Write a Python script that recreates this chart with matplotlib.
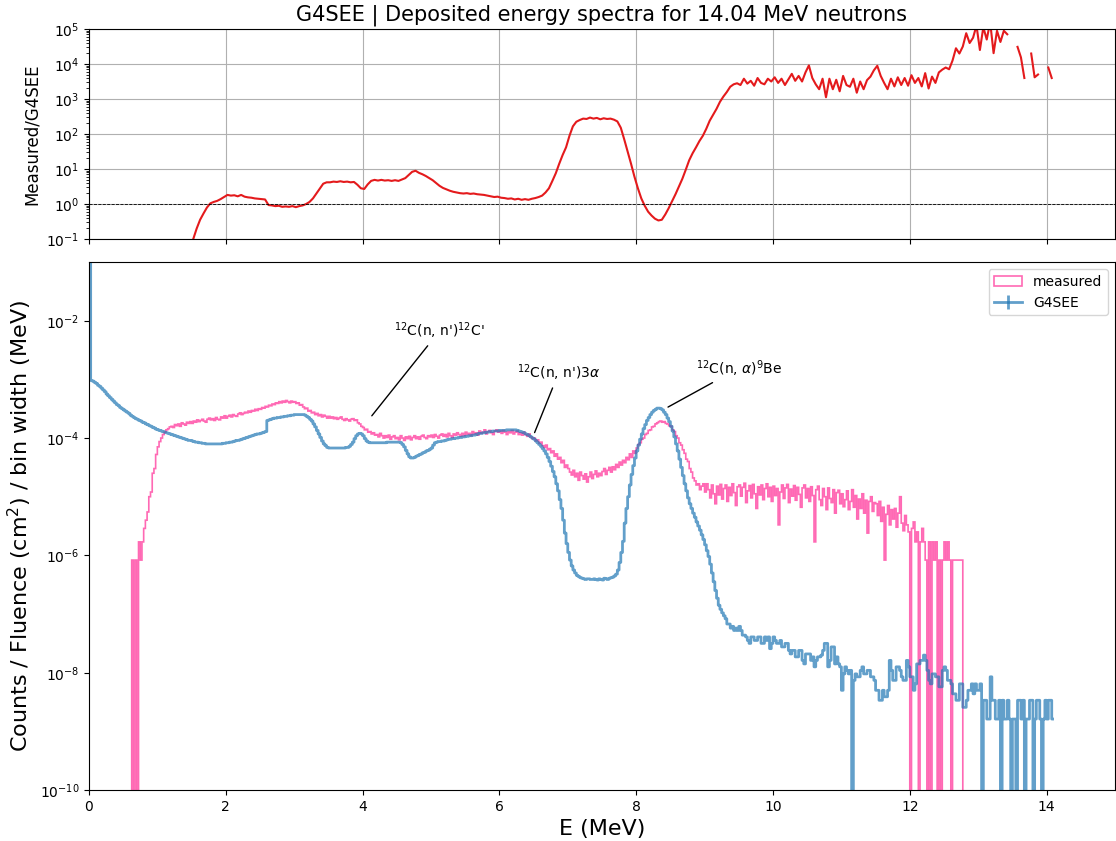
import numpy as np
import matplotlib
matplotlib.use("Agg")
import matplotlib.pyplot as plt
from matplotlib.ticker import NullLocator

# ---------------- data (log10 of the plotted values, None = empty bin) ----------------
SPEC_BIN = 0.025   # MeV, spectra bin width
RATIO_BIN = 0.05   # MeV, ratio sampling

# G4SEE simulated spectrum, log10(counts / fluence / bin width), one row = 0.5 MeV
g4_log = [
    0.00, -3.02, -3.03, -3.05, -3.07, -3.10, -3.12, -3.15, -3.18, -3.21, -3.25, -3.28, -3.31, -3.34, -3.37, -3.40, -3.43, -3.45, -3.48, -3.50,
    -3.52, -3.54, -3.56, -3.58, -3.61, -3.63, -3.65, -3.67, -3.68, -3.70, -3.71, -3.73, -3.74, -3.76, -3.77, -3.79, -3.80, -3.82, -3.83, -3.85,
    -3.86, -3.87, -3.88, -3.89, -3.90, -3.91, -3.92, -3.93, -3.94, -3.95, -3.96, -3.97, -3.98, -3.99, -4.00, -4.01, -4.02, -4.03, -4.04, -4.04,
    -4.05, -4.06, -4.07, -4.07, -4.08, -4.08, -4.09, -4.09, -4.10, -4.10, -4.10, -4.10, -4.10, -4.10, -4.10, -4.10, -4.10, -4.10, -4.09, -4.09,
    -4.08, -4.08, -4.07, -4.07, -4.06, -4.05, -4.04, -4.04, -4.03, -4.02, -4.01, -4.00, -3.99, -3.98, -3.97, -3.96, -3.95, -3.94, -3.93, -3.93,
    -3.92, -3.91, -3.90, -3.89, -3.70, -3.69, -3.68, -3.67, -3.66, -3.66, -3.65, -3.65, -3.64, -3.64, -3.63, -3.63, -3.62, -3.62, -3.61, -3.61,
    -3.60, -3.60, -3.60, -3.60, -3.60, -3.60, -3.61, -3.63, -3.65, -3.68, -3.71, -3.76, -3.81, -3.87, -3.93, -3.99, -4.05, -4.10, -4.13, -4.16,
    -4.17, -4.17, -4.17, -4.17, -4.17, -4.17, -4.17, -4.17, -4.17, -4.17, -4.16, -4.16, -4.14, -4.11, -4.07, -4.01, -3.96, -3.93, -3.92, -3.93,
    -3.96, -4.01, -4.05, -4.07, -4.08, -4.08, -4.08, -4.08, -4.08, -4.08, -4.08, -4.08, -4.08, -4.08, -4.07, -4.07, -4.07, -4.07, -4.07, -4.07,
    -4.07, -4.07, -4.08, -4.11, -4.15, -4.21, -4.27, -4.32, -4.34, -4.34, -4.33, -4.31, -4.30, -4.28, -4.27, -4.25, -4.24, -4.22, -4.21, -4.19,
    -4.17, -4.12, -4.08, -4.07, -4.06, -4.06, -4.05, -4.05, -4.04, -4.03, -4.02, -4.02, -4.01, -4.01, -4.00, -4.00, -3.99, -3.99, -3.98, -3.98,
    -3.97, -3.97, -3.96, -3.96, -3.95, -3.95, -3.94, -3.93, -3.92, -3.92, -3.91, -3.91, -3.90, -3.90, -3.89, -3.89, -3.88, -3.88, -3.88, -3.88,
    -3.87, -3.87, -3.87, -3.87, -3.86, -3.86, -3.86, -3.86, -3.86, -3.86, -3.87, -3.88, -3.89, -3.90, -3.91, -3.93, -3.94, -3.96, -3.98, -4.00,
    -4.02, -4.05, -4.08, -4.11, -4.14, -4.18, -4.22, -4.27, -4.33, -4.40, -4.48, -4.57, -4.66, -4.78, -4.90, -5.05, -5.20, -5.40, -5.62, -5.80,
    -5.95, -6.08, -6.18, -6.25, -6.30, -6.34, -6.36, -6.38, -6.39, -6.40, -6.41, -6.40, -6.40, -6.41, -6.41, -6.40, -6.41, -6.42, -6.40, -6.41,
    -6.42, -6.39, -6.40, -6.41, -6.39, -6.38, -6.37, -6.35, -6.32, -6.25, -6.12, -5.95, -5.76, -5.45, -5.20, -5.00, -4.80, -4.62, -4.47, -4.34,
    -4.22, -4.12, -4.02, -3.93, -3.84, -3.77, -3.70, -3.65, -3.60, -3.56, -3.53, -3.51, -3.49, -3.49, -3.50, -3.52, -3.56, -3.60, -3.66, -3.72,
    -3.80, -3.88, -3.98, -4.10, -4.22, -4.36, -4.50, -4.64, -4.78, -4.90, -5.02, -5.12, -5.20, -5.28, -5.35, -5.43, -5.50, -5.57, -5.65, -5.73,
    -5.82, -5.92, -6.02, -6.15, -6.30, -6.45, -6.60, -6.73, -6.85, -6.92, -6.98, -7.03, -7.08, -7.17, -7.17, -7.24, -7.21, -7.28, -7.24, -7.28,
    -7.21, -7.28, -7.36, -7.36, -7.39, -7.45, -7.50, -7.39, -7.39, -7.45, -7.45, -7.39, -7.39, -7.50, -7.50, -7.39, -7.45, -7.39, -7.59, -7.50,
    -7.39, -7.45, -7.50, -7.50, -7.45, -7.56, -7.56, -7.50, -7.50, -7.62, -7.68, -7.62, -7.62, -7.73, -7.73, -7.62, -7.62, -7.79, -7.85, -7.68,
    -7.68, -7.68, -7.79, -7.73, -7.90, -7.79, -7.73, -7.73, -7.70, -7.62, -7.50, -7.50, -7.90, -7.79, -7.56, -7.56, -7.85, -7.73, -7.85, -7.90,
    -8.30, -8.02, -7.90, -7.96, -8.02, -7.96, None, -8.13, -8.02, -8.07, -8.07, -7.96, -7.90, -8.02, -8.02, -7.96, -7.96, -8.07, -8.07, -8.13,
    -8.30, -8.30, -8.47, -8.47, -8.30, -8.41, -8.41, -8.30, -7.79, -7.96, -8.13, -8.13, -7.90, -7.90, -7.96, -8.07, -8.13, -8.13, -7.79, -7.90,
    -8.07, -8.07, -8.30, -8.19, -7.85, -7.85, -7.79, -7.79, -7.70, -7.79, -7.96, -8.13, -8.19, -8.02, -8.02, -8.07, -8.07, -8.24, -8.24, -7.96,
    -7.90, -7.96, -8.13, -8.13, -8.19, -8.36, -8.36, -8.47, -8.47, -8.19, -8.19, -8.59, -8.59, -8.47, -8.30, -8.30, -8.19, -8.36, -8.19, -8.30,
    -8.30, -8.19, None, -8.47, -8.47, -8.79, -8.79, -8.07, -8.47, -8.47, -8.79, -8.79, -8.47, None, -8.47, -8.79, -8.79, -8.47, -8.79, None,
    -8.79, -8.79, None, -8.47, -8.47, -8.79, -8.47, None, -8.79, -8.79, -8.47, -8.47, None, -8.79, -8.47, -8.47, -8.79, None, -8.79, -8.47,
    -8.79, -8.47, -8.47, -8.79,
]

# measured spectrum, log10(counts / fluence / bin width), one row = 0.5 MeV
meas_log = [None] * 20 + [
    None, None, None, None, None, -6.08, None, -6.08, None, -5.77, -6.08, -5.77, -5.54, -5.40, -5.26, -5.00, -4.92, -4.60, -4.52, -4.28,
    -4.15, -4.06, -4.00, -3.94, -3.90, -3.86, -3.84, -3.81, -3.80, -3.82, -3.77, -3.79, -3.76, -3.80, -3.74, -3.76, -3.78, -3.73, -3.75, -3.72,
    -3.75, -3.71, -3.73, -3.69, -3.72, -3.70, -3.68, -3.71, -3.73, -3.68, -3.66, -3.69, -3.67, -3.70, -3.65, -3.68, -3.69, -3.64, -3.66, -3.62,
    -3.66, -3.63, -3.61, -3.64, -3.60, -3.62, -3.63, -3.59, -3.57, -3.60, -3.58, -3.56, -3.57, -3.54, -3.56, -3.53, -3.54, -3.51, -3.53, -3.50,
    -3.51, -3.48, -3.49, -3.46, -3.47, -3.44, -3.45, -3.42, -3.43, -3.40, -3.41, -3.38, -3.40, -3.37, -3.39, -3.36, -3.38, -3.40, -3.37, -3.39,
    -3.38, -3.41, -3.40, -3.44, -3.43, -3.47, -3.50, -3.49, -3.54, -3.53, -3.57, -3.56, -3.60, -3.58, -3.62, -3.60, -3.64, -3.61, -3.63, -3.66,
    -3.63, -3.66, -3.64, -3.67, -3.65, -3.68, -3.66, -3.64, -3.68, -3.70, -3.67, -3.69, -3.71, -3.68, -3.67, -3.70, -3.69, -3.74, -3.76, -3.80,
    -3.82, -3.86, -3.85, -3.90, -3.89, -3.93, -3.91, -3.95, -3.94, -3.98, -3.92, -3.96, -4.00, -3.96, -3.99, -3.95, -4.02, -3.98, -3.96, -4.01,
    -3.99, -4.03, -3.96, -4.00, -4.04, -3.98, -4.01, -3.97, -4.03, -3.99, -3.96, -4.01, -3.98, -4.02, -3.97, -3.95, -3.99, -4.01, -3.96, -3.98,
    -3.95, -3.99, -3.94, -3.97, -4.00, -3.95, -3.93, -3.97, -3.94, -3.98, -3.92, -3.96, -3.99, -3.93, -3.95, -3.91, -3.94, -3.97, -3.92, -3.96,
    -3.90, -3.94, -3.92, -3.96, -3.89, -3.93, -3.91, -3.95, -3.88, -3.92, -3.90, -3.86, -3.93, -3.89, -3.87, -3.91, -3.94, -3.88, -3.86, -3.90,
    -3.88, -3.92, -3.87, -3.90, -3.94, -3.89, -3.91, -3.87, -3.93, -3.90, -3.88, -3.94, -3.91, -3.95, -3.90, -3.94, -3.97, -3.93, -3.98, -4.01,
    -4.00, -4.05, -4.03, -4.09, -4.07, -4.13, -4.16, -4.12, -4.20, -4.18, -4.25, -4.22, -4.31, -4.27, -4.36, -4.33, -4.42, -4.38, -4.50, -4.46,
    -4.52, -4.58, -4.63, -4.55, -4.66, -4.60, -4.72, -4.58, -4.64, -4.70, -4.61, -4.75, -4.66, -4.58, -4.69, -4.62, -4.56, -4.66, -4.60, -4.64,
    -4.57, -4.52, -4.62, -4.55, -4.50, -4.58, -4.49, -4.54, -4.45, -4.50, -4.41, -4.46, -4.38, -4.42, -4.33, -4.37, -4.27, -4.33, -4.22, -4.26,
    -4.17, -4.11, -4.08, -4.02, -4.00, -3.94, -3.92, -3.87, -3.86, -3.81, -3.80, -3.76, -3.74, -3.72, -3.71, -3.73, -3.72, -3.75, -3.76, -3.79,
    -3.80, -3.86, -3.89, -3.96, -4.00, -4.08, -4.12, -4.20, -4.26, -4.36, -4.40, -4.52, -4.58, -4.68, -4.73, -4.80, -4.78, -4.88, -4.82, -4.78,
    -4.92, -4.78, -4.88, -5.02, -4.80, -4.95, -5.12, -4.82, -4.97, -4.79, -5.04, -4.86, -4.80, -5.08, -4.84, -4.98, -4.78, -4.93, -5.15, -4.83,
    -4.80, -4.99, -4.84, -4.77, -5.10, -4.90, -4.81, -5.02, -4.79, -4.95, -5.20, -4.83, -4.97, -4.80, -5.05, -4.86, -4.78, -5.00, -4.84, -5.08,
    -4.82, -4.98, -4.86, -5.48, -4.92, -4.80, -5.03, -4.85, -4.79, -5.10, -4.87, -4.99, -4.81, -5.06, -4.84, -4.96, -5.18, -4.85, -4.80, -5.02,
    -4.86, -5.08, -4.83, -4.98, -5.77, -4.88, -4.82, -5.05, -5.15, -4.86, -5.00, -5.22, -4.85, -5.03, -5.10, -4.88, -5.28, -4.93, -4.89, -5.12,
    -4.95, -5.17, -5.05, -4.90, -5.22, -5.08, -4.88, -5.18, -4.98, -5.38, -5.04, -5.20, -4.95, -5.28, -5.06, -5.62, -5.08, -5.00, -5.25, -5.10,
    -5.12, -5.32, -5.08, -5.42, -5.18, -6.08, -5.30, -5.15, -5.48, -5.22, -5.38, -5.20, -5.52, -5.28, -5.00, -5.45, -5.58, -5.32, -5.48, -5.60,
    None, -5.54, -5.43, -5.77, -5.60, None, -5.77, -5.54, -5.77, -6.08, None, -5.77, None, -5.77, -6.08, -5.77, None, -6.08, None, -6.08,
    -5.77, -6.08, -5.77, -6.08, None, -6.08, -6.08, -6.08, -6.08, -6.08, -6.08,
] + [None] * 53

# ratio measured / G4SEE (top panel), log10, None = undefined
ratio_log = [None] * 30 + [
    -1.00, -0.70, -0.45, -0.27, -0.10, 0.02, 0.06, 0.09, 0.14, 0.20,
    0.26, 0.24, 0.25, 0.22, 0.26, 0.21, 0.19, 0.18, 0.16, 0.15,
    0.14, 0.13, -0.03, -0.04, -0.06, -0.05, -0.08, -0.07, -0.08, -0.06,
    -0.09, -0.06, -0.04, 0.00, 0.06, 0.16, 0.30, 0.44, 0.58, 0.62,
    0.62, 0.64, 0.63, 0.65, 0.63, 0.64, 0.62, 0.63, 0.55, 0.45,
    0.43, 0.56, 0.66, 0.69, 0.67, 0.69, 0.67, 0.68, 0.66, 0.68,
    0.66, 0.70, 0.74, 0.83, 0.92, 0.95, 0.89, 0.85, 0.80, 0.74,
    0.68, 0.60, 0.52, 0.46, 0.42, 0.38, 0.35, 0.33, 0.31, 0.30,
    0.31, 0.29, 0.30, 0.28, 0.27, 0.26, 0.24, 0.22, 0.20, 0.21,
    0.18, 0.17, 0.15, 0.16, 0.13, 0.15, 0.12, 0.14, 0.12, 0.15,
    0.17, 0.20, 0.24, 0.33, 0.45, 0.66, 0.88, 1.15, 1.40, 1.62,
    1.95, 2.22, 2.35, 2.40, 2.44, 2.43, 2.47, 2.44, 2.46, 2.42,
    2.45, 2.43, 2.44, 2.41, 2.36, 2.18, 1.85, 1.50, 1.15, 0.78,
    0.45, 0.16, -0.05, -0.22, -0.33, -0.42, -0.47, -0.45, -0.30, -0.12,
    0.08, 0.28, 0.50, 0.72, 0.98, 1.25, 1.45, 1.62, 1.80, 1.95,
    2.15, 2.38, 2.55, 2.72, 2.92, 3.07, 3.20, 3.35, 3.42, 3.45,
    3.40, 3.58, 3.44, 3.52, 3.38, 3.60, 3.46, 3.42, 3.58, 3.50,
    3.62, 3.46, 3.58, 3.40, 3.56, 3.72, 3.52, 3.66, 3.50, 3.76,
    3.96, 3.60, 3.42, 3.28, 3.58, 3.05, 3.58, 3.28, 3.55, 3.22,
    3.66, 3.40, 3.35, 3.58, 3.18, 3.50, 3.28, 3.54, 3.64, 3.82,
    3.95, 3.66, 3.46, 3.28, 3.58, 3.36, 3.62, 3.40, 3.60, 3.38,
    3.68, 3.46, 3.60, 3.36, 3.74, 3.30, 3.64, 3.46, 3.76, 3.84,
    3.90, 3.85, 4.10, 4.45, 4.30, 4.50, 4.88, 4.60, 4.75, 5.10,
    4.40, 5.05, 4.70, 5.20, 4.31, 4.95, 4.63, 4.95, 4.85,
    None, None, 4.49, 4.19, 3.60, None, 4.30, 3.62, 3.70, None, None,
    3.90, 3.60,
]

# annotations: label, peak (E, value), text position (E, value)
ann_labels = [r"$^{12}$C(n, n')$^{12}$C'", r"$^{12}$C(n, n')3$\alpha$", r"$^{12}$C(n, $\alpha$)$^9$Be"]
ann_xy = [(4.11, 2.2e-4), (6.50, 1.12e-4), (8.43, 3.2e-4)]
ann_text_xy = [(5.13, 6.8e-3), (6.87, 1.32e-3), (9.50, 1.55e-3)]

# ---------------- derived arrays ----------------
edges = np.arange(len(g4_log) + 1) * SPEC_BIN
centers = edges[:-1] + SPEC_BIN / 2
ratio_x = np.arange(len(ratio_log)) * RATIO_BIN + RATIO_BIN / 2


def to_lin(lst, missing):
    return np.array([missing if v is None else 10.0 ** v for v in lst], dtype=float)


g4 = to_lin(g4_log, 0.0)
meas = to_lin(meas_log, 0.0)
ratio = to_lin(ratio_log, np.nan)

# ---------------- figure ----------------
fig = plt.figure(figsize=(11.16, 8.41), dpi=100)
ax_top = fig.add_axes([0.0797, 0.7158, 0.9194, 0.2497])
ax = fig.add_axes([0.0797, 0.0606, 0.9194, 0.6278], sharex=ax_top)

# top: ratio
ax_top.set_yscale("log")
ax_top.plot(ratio_x, ratio, color="#e41a1c", lw=1.5)
ax_top.axhline(1, color="k", ls="--", lw=0.6)
ax_top.set_ylim(1e-1, 1e5)
ax_top.grid(True)
ax_top.set_ylabel("Measured/G4SEE", fontsize=12)
ax_top.set_title("G4SEE | Deposited energy spectra for 14.04 MeV neutrons", fontsize=15)
ax_top.tick_params(labelbottom=False)

# bottom: spectra
ax.set_yscale("log")
ax.hist(centers, bins=edges, weights=meas, histtype="step", color="hotpink",
        lw=1.2, label="measured")
ax.errorbar(centers, g4, yerr=np.zeros_like(g4), drawstyle="steps-mid",
            color="#1f77b4", alpha=0.7, lw=2, label="G4SEE")
ax.set_xlim(0, 15)
ax.set_ylim(1e-10, 1e-1)
ax.set_yticks([1e-10, 1e-8, 1e-6, 1e-4, 1e-2])
ax.yaxis.set_minor_locator(NullLocator())
ax.set_xlabel("E (MeV)", fontsize=16)
ax.set_ylabel("Counts / Fluence (cm$^2$) / bin width (MeV)", fontsize=16)
ax.legend(loc="upper right")

for label, xy, xyt in zip(ann_labels, ann_xy, ann_text_xy):
    ax.annotate(label, xy=xy, xytext=xyt, ha="center", va="center", fontsize=10,
                arrowprops=dict(arrowstyle="-", color="k", lw=1))

fig.savefig("out.png", dpi=100)
